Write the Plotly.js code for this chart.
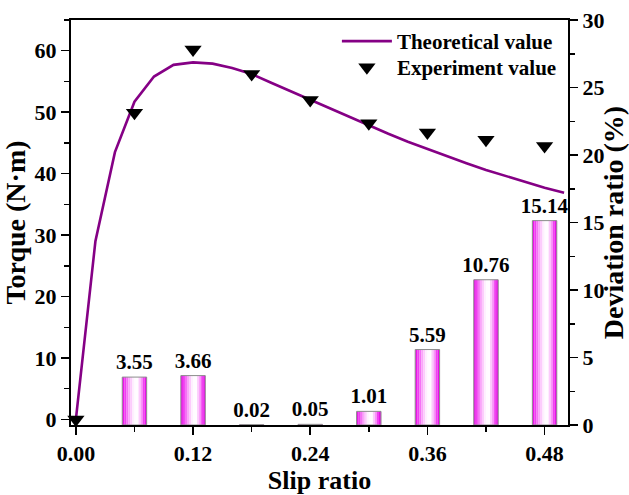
<!DOCTYPE html>
<html><head><meta charset="utf-8">
<script src="https://cdn.plot.ly/plotly-3.0.1.min.js"></script>
<style>html,body{margin:0;padding:0;background:#fff;overflow:hidden}</style></head>
<body><div id="chart" style="width:629px;height:495px"></div>
<script>
// ---- data ----
const theoSlip = [0,0.02,0.04,0.06,0.08,0.10,0.12,0.14,0.16,0.18,0.20,0.22,0.24,0.26,0.28,0.30,0.32,0.34,0.36,0.38,0.40,0.42,0.44,0.46,0.48,0.50];
const theoTorque = [0,29,43.5,51.7,55.8,57.7,58.1,57.9,57.2,56.2,54.8,53.4,52.0,50.6,49.2,47.8,46.5,45.2,44.0,42.8,41.7,40.6,39.6,38.6,37.7,36.9];
const expSlip = [0,0.06,0.12,0.18,0.24,0.30,0.36,0.42,0.48];
const expTorque = [0,49.9,60.2,56.2,52.0,48.2,46.7,45.5,44.5];
const devSlip = [0.06,0.12,0.18,0.24,0.30,0.36,0.42,0.48];
const devRatio = [3.55,3.66,0.02,0.05,1.01,5.59,10.76,15.14];
const xTickVals = [0,0.12,0.24,0.36,0.48];
const xTickText = ['0.00','0.12','0.24','0.36','0.48'];

// ---- styles ----
const FAM = '"Liberation Serif","Times New Roman",serif';
const tickFont = {family:FAM, size:22, color:'#000', weight:700};
const titleFont = {family:FAM, size:28, color:'#000', weight:700};
const xTitleFont = {family:FAM, size:26, color:'#000', weight:700};
const legFont = {family:FAM, size:21, color:'#000', weight:700};
const barW = 0.025;
const N = 12;
const stops = [[0,[232,0,232]],[0.12,[240,60,240]],[0.3,[250,170,250]],[0.48,[255,248,255]],[0.62,[255,255,255]],[0.78,[250,160,250]],[0.9,[238,40,238]],[1,[230,0,230]]];
function grad(t){
  for(let i=1;i<stops.length;i++){
    if(t<=stops[i][0]){
      const a=stops[i-1], b=stops[i];
      const f=(t-a[0])/(b[0]-a[0]);
      const c=a[1].map((v,k)=>Math.round(v+(b[1][k]-v)*f));
      return 'rgb('+c.join(',')+')';
    }
  }
  return 'rgb(230,0,230)';
}

const traces = [];
for(let i=0;i<N;i++){
  traces.push({
    type:'bar', x:devSlip, y:devRatio, yaxis:'y2',
    width:barW/N*1.02, offset:-barW/2 + i*barW/N,
    marker:{color:grad((i+0.5)/N), line:{width:0}},
    showlegend:false, hoverinfo:'skip'
  });
}
traces.push({
  type:'bar', x:devSlip, y:devRatio, yaxis:'y2',
  width:barW, offset:-barW/2,
  marker:{color:'rgba(0,0,0,0)', line:{color:'#8c8c8c', width:1}},
  text:devRatio.map(v=>v.toFixed(2)), textposition:'outside', constraintext:'none',
  textfont:{family:FAM, size:21, color:'#000', weight:700},
  cliponaxis:false, showlegend:false
});
traces.push({
  type:'scatter', mode:'lines', x:theoSlip, y:theoTorque, name:'Theoretical value',
  line:{color:'#850085', width:2.6}, legend:'legend'
});
traces.push({
  type:'scatter', mode:'markers', x:expSlip, y:expTorque, name:'Experiment value',
  marker:{symbol:'triangle-down', size:15, color:'#000'}, cliponaxis:false, legend:'legend2'
});

const layout = {
  width:629, height:495,
  margin:{l:71, r:61, t:20, b:70},
  paper_bgcolor:'#fff', plot_bgcolor:'#fff',
  barmode:'overlay',
  showlegend:true,
  legend:{x:0.535, y:0.9975, xanchor:'left', yanchor:'top', bgcolor:'rgba(0,0,0,0)',
    itemwidth:50, font:legFont},
  legend2:{x:0.535, y:0.933, xanchor:'left', yanchor:'top', bgcolor:'rgba(0,0,0,0)',
    itemwidth:50, font:legFont},
  xaxis:{
    range:[-0.005,0.504], tickvals:xTickVals, ticktext:xTickText,
    ticks:'outside', ticklen:8, tickwidth:1.5, tickcolor:'#000',
    minor:{tickvals:[0.06,0.18,0.30,0.42], ticks:'outside', ticklen:5, tickwidth:1.5, tickcolor:'#000'},
    showline:true, linecolor:'#000', linewidth:2, mirror:true,
    showgrid:false, zeroline:false, tickfont:tickFont,
    title:{text:'Slip ratio', font:xTitleFont, standoff:12}
  },
  yaxis:{
    range:[-0.9,65], tickvals:[0,10,20,30,40,50,60],
    ticks:'outside', ticklen:8, tickwidth:1.5, tickcolor:'#000',
    minor:{dtick:5, ticks:'outside', ticklen:5, tickwidth:1.5, tickcolor:'#000'},
    showline:true, linecolor:'#000', linewidth:2,
    showgrid:false, zeroline:false, tickfont:tickFont,
    title:{text:'Torque (N·m)', font:titleFont, standoff:4}
  },
  yaxis2:{
    overlaying:'y', side:'right', range:[0,30], tickvals:[0,5,10,15,20,25,30],
    ticks:'outside', ticklen:8, tickwidth:1.5, tickcolor:'#000',
    minor:{dtick:2.5, ticks:'outside', ticklen:5, tickwidth:1.5, tickcolor:'#000'},
    showline:true, linecolor:'#000', linewidth:2,
    showgrid:false, zeroline:false, tickfont:tickFont,
    title:{text:'Deviation ratio (%)', font:titleFont, standoff:4}
  }
};
Plotly.newPlot('chart', traces, layout, {displayModeBar:false, staticPlot:true});
</script></body></html>
